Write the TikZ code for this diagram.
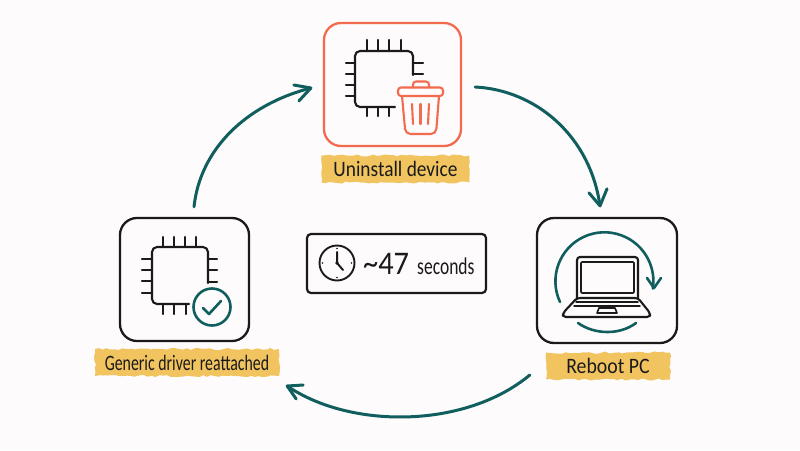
\documentclass[tikz,border=0pt]{standalone}
\usepackage{fontspec}
\setmainfont{Carlito}
\usetikzlibrary{decorations.pathmorphing,calc}
\definecolor{bgc}{HTML}{FDFBFB}
\definecolor{ink}{HTML}{1A1A1A}
\definecolor{teal}{HTML}{115E5F}
\definecolor{coral}{HTML}{F26B4E}
\definecolor{hl}{HTML}{F2C460}
\tikzset{
  x=1pt,y=-1pt,
  every path/.append style={line cap=round,line join=round},
  card/.style={draw=#1,line width=2.3pt,rounded corners=17pt,inner sep=0pt,fill=none},
  tag/.style={fill=hl,inner sep=0pt,decorate,decoration={random steps,segment length=4pt,amplitude=1.1pt},text=ink,font=\fontsize{22}{24}\selectfont},
  chip/.style={draw=ink,line width=2.1pt},
  trash/.style={draw=coral,line width=2.1pt},
  tealline/.style={draw=teal,line width=2.3pt},
  flow/.style={draw=teal,line width=3pt},
}
\begin{document}
\begin{tikzpicture}
\path[fill=bgc] (0,0) rectangle (800,450);
\useasboundingbox (0,0) rectangle (800,450);

% cards
\node[card=coral,minimum width=137pt,minimum height=123pt] (cardtop) at (392.5,84.5) {};
\node[card=ink,minimum width=129pt,minimum height=123pt] (cardleft) at (184.5,279.5) {};
\node[card=ink,minimum width=140pt,minimum height=125pt] (cardright) at (607,280.5) {};
\node[draw=ink,line width=2.2pt,rounded corners=4pt,minimum width=179pt,minimum height=59pt,inner sep=0pt] (timebox) at (396.5,263.5) {};

% tags
\node[tag,minimum width=148pt,minimum height=27pt] (tagtop) at (395.5,169) {\scalebox{0.88}[1]{Uninstall device}};
\node[tag,minimum width=184pt,minimum height=27pt] (tagleft) at (187,362.5) {\scalebox{0.72}[1]{Generic driver reattached}};
\node[tag,minimum width=124pt,minimum height=27pt] (tagright) at (608,366) {\scalebox{0.9}[1]{Reboot PC}};

% chip, top
\draw[chip,rounded corners=5pt] (413,75) -- (413,51) -- (355,51) -- (355,107) -- (395,107);
\foreach \x in {367,378,389,401} \draw[chip] (\x,40) -- (\x,51);
\foreach \y in {63,74,85,96} \draw[chip] (346,\y) -- (355,\y);
\foreach \y in {63,74} \draw[chip] (413,\y) -- (423,\y);
\foreach \x in {367,378,389} \draw[chip] (\x,107) -- (\x,116);
% trash
\draw[trash,rounded corners=3pt] (398,87.5) rectangle (443,96);
\draw[trash,rounded corners=3pt] (413,87.5) -- (413,81.5) -- (429,81.5) -- (429,87.5);
\draw[trash,rounded corners=5pt] (402,96) -- (405.5,134) -- (436,134) -- (439,96);
\foreach \x/\d in {412/1,420.5/0,429/-1} \draw[trash] (\x,104) -- (\x+\d,124);

% chip, left
\draw[chip,rounded corners=5pt] (208,283) -- (208,247) -- (152,247) -- (152,304) -- (189,304);
\foreach \x in {163,174,185,196} \draw[chip] (\x,237) -- (\x,247);
\foreach \y in {259,270,281,293} \draw[chip] (142,\y) -- (152,\y);
\foreach \y in {259,270,282} \draw[chip] (208,\y) -- (217,\y);
\foreach \x in {163,174,186} \draw[chip] (\x,304) -- (\x,314);
\node[circle,tealline,line width=2.6pt,minimum size=37pt,inner sep=0pt] (okmark) at (212,307) {};
\draw[tealline,line width=2.6pt] (203,308) -- (209,314) -- (221,301);

% laptop
\draw[chip,rounded corners=3pt] (577,298) -- (577,257) -- (638,257) -- (638,298);
\draw[draw=ink,line width=1.7pt,rounded corners=1pt] (581,262) rectangle (634,293);
\draw[chip,rounded corners=3pt] (577,298) -- (638,298) -- (650,313) -- (650,317) -- (563,317) -- (563,313) -- cycle;
\draw[draw=ink,line width=1.4pt] (576,302) -- (638,302);
\draw[draw=ink,line width=1.4pt] (574,306) -- (640,306);
\draw[draw=ink,line width=1.6pt] (597,313) -- (599,308) -- (615,308) -- (617,313) -- cycle;
\draw[tealline,line width=2.6pt] (560,302) arc (155:368.5:49);
\draw[tealline,line width=2.6pt] (647,278) -- (654,288) -- (661,278);
\draw[tealline,line width=2.6pt] (578,323) .. controls (595,335) and (620,335) .. (636,323);

% clock
\node[circle,draw=ink,line width=1.9pt,minimum size=35pt,inner sep=0pt] (clockface) at (337,263) {};
\draw[draw=ink,line width=2pt] (337,252) -- (337,263) -- (343,270);
\fill[ink] (337,263) circle (1.8);
\foreach \a in {0,90,180,270} \fill[ink] ($(clockface.center)+(\a:14.5)$) circle (0.9);
\node[anchor=base west,inner sep=0pt,text=ink,font=\fontsize{33}{38}\selectfont] (tlarge) at (363,274) {\scalebox{0.92}[1]{\textasciitilde 47}};
\node[anchor=base west,inner sep=0pt,text=ink,font=\fontsize{24}{26}\selectfont] (tsmall) at (417,274) {\scalebox{0.73}[1]{seconds}};

% connectors
\coordinate (a1s) at ($(cardtop.east)+(13,2.5)$);
\coordinate (a1e) at ($(cardright.north)+(-7,-11)$);
\coordinate (a1l) at ($(a1e)+(-11,-13)$);
\coordinate (a1r) at ($(a1e)+(7,-17)$);
\coordinate (a2s) at ($(tagright.west)+(-16,9)$);
\coordinate (a2e) at ($(tagleft.east)+(8,23.5)$);
\coordinate (a2l) at ($(a2e)+(16,-1)$);
\coordinate (a2r) at ($(a2e)+(9,13)$);
\coordinate (a3s) at ($(cardleft.north)+(9.5,-10)$);
\coordinate (a3e) at ($(cardtop.west)+(-12,3.5)$);
\coordinate (a3l) at ($(a3e)+(-17,-3)$);
\coordinate (a3r) at ($(a3e)+(-12,13)$);
\draw[flow] (a1s) .. controls (535,90) and (590,135) .. (a1e);
\draw[flow] (a1l) -- (a1e) -- (a1r);
\draw[flow] (a2s) .. controls (465,429) and (350,429) .. (a2e);
\draw[flow] (a2l) -- (a2e) -- (a2r);
\draw[flow] (a3s) .. controls (200,150) and (245,105) .. (a3e);
\draw[flow] (a3l) -- (a3e) -- (a3r);
\end{tikzpicture}
\end{document}
